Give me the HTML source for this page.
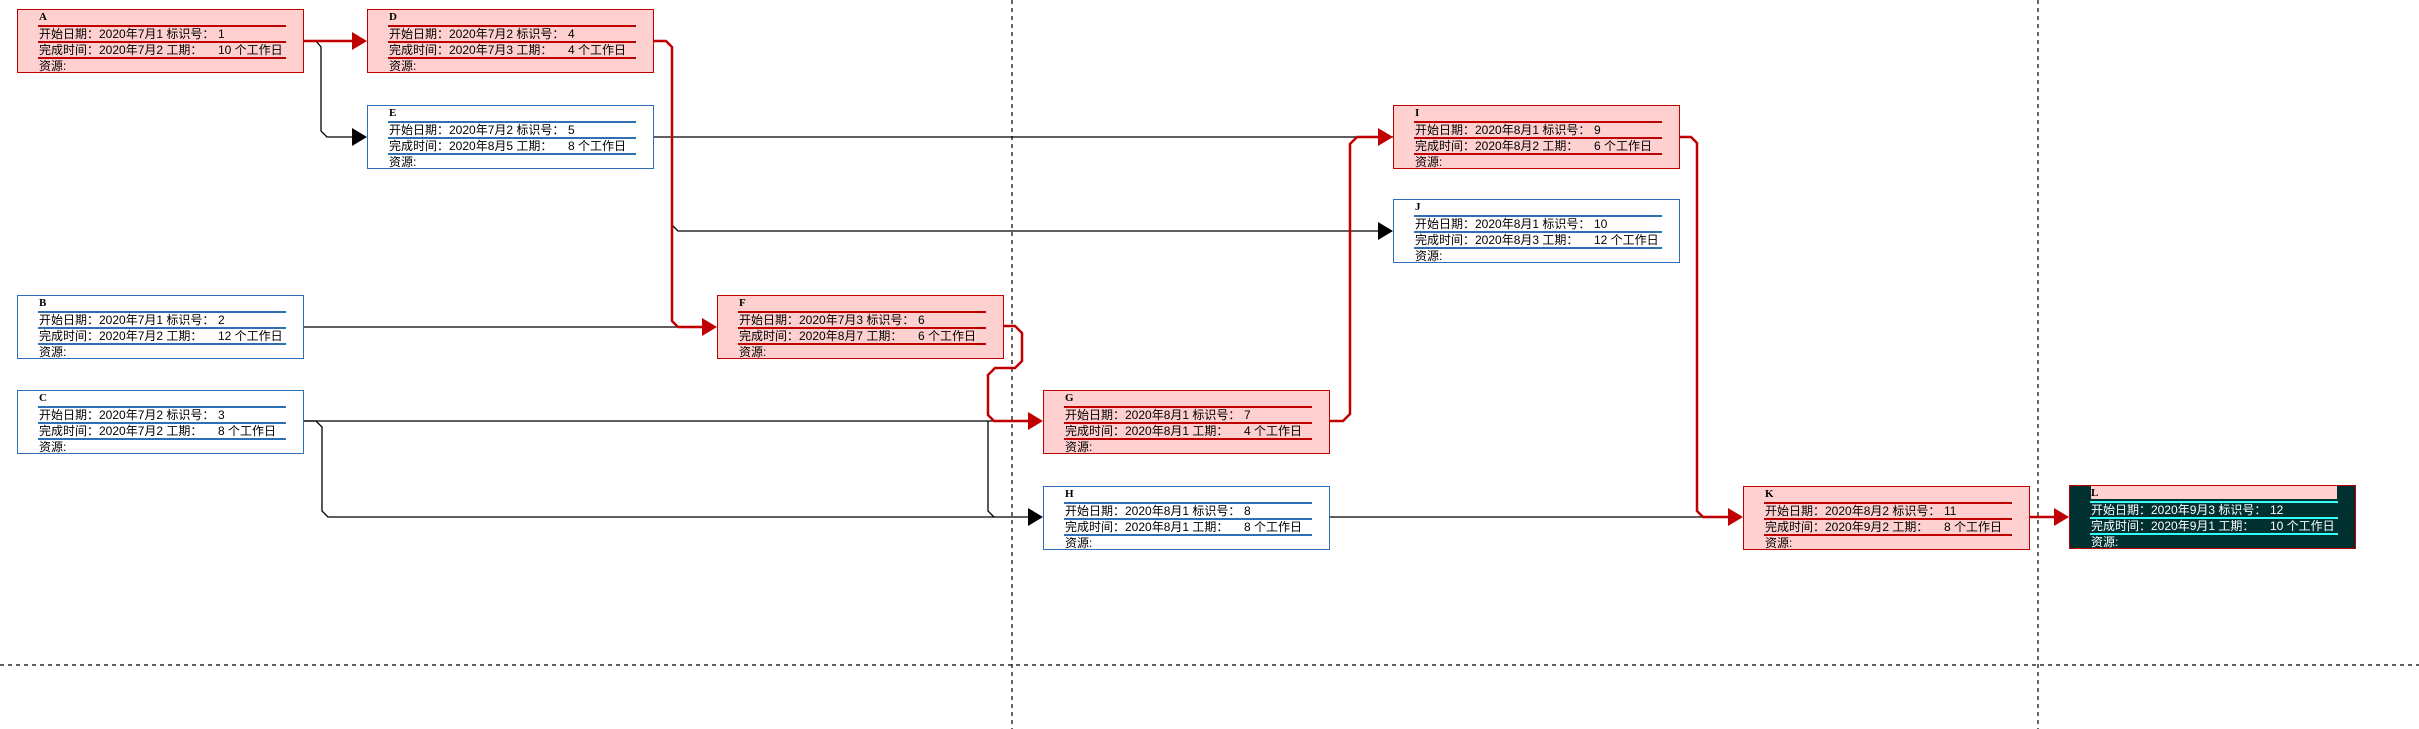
<!DOCTYPE html>
<html><head><meta charset="utf-8"><style>
body{margin:0;width:2419px;height:729px;background:#fff;position:relative;overflow:hidden;font-family:"Liberation Sans","Noto Sans CJK SC",sans-serif;}
svg{position:absolute;left:0;top:0}
.b{position:absolute;width:285px;height:62px;border:1px solid #c00000;background:#ffd0d0;font-size:12px;color:#000;white-space:nowrap}
.w{border-color:#2e6fb7;background:#fff}
.b .l{position:absolute;left:20px;width:248px;height:2px;background:#c00000}
.w .l{background:#2e6fb7}
.b b{position:absolute;left:21px;top:1px;font-family:"Liberation Serif",serif;font-size:11px;line-height:12px}
.b span{position:absolute;left:21px;line-height:15px}
.b em{position:absolute;left:200px;font-style:normal;line-height:15px}
.r1{top:17px}.r2{top:33px}.r3{top:49px}
.L{background:#003030;border-color:#c00000;color:#fff}
.L .l{background:#3ff}
.L .tb{position:absolute;left:21px;top:0;width:246px;height:13px;background:#ffd0d0}
.L b{color:#000}
</style></head><body>
<svg width="2419" height="729">
<g stroke="#000" stroke-width="1.2" stroke-dasharray="4,4" fill="none">
<line x1="1012" y1="0" x2="1012" y2="729"/><line x1="2038" y1="0" x2="2038" y2="729"/><line x1="0" y1="665" x2="2419" y2="665"/>
</g>
<g stroke="#000" stroke-width="1.3" fill="none">
<polyline points="304,41 316,41 321,47 321,131 327,137 353,137"/>
<polyline points="654,137 1393,137"/>
<polyline points="672,225 678,231 1379,231"/>
<polyline points="304,327 703,327"/>
<polyline points="304,421 1029,421"/>
<polyline points="304,421 316,421 322,427 322,511 328,517 1029,517"/>
<polyline points="988,421 988,511 994,517"/>
<polyline points="1330,517 1729,517"/>
</g>
<g stroke="#c00000" stroke-width="2.5" fill="none">
<polyline points="304,41 355,41"/>
<polyline points="654,41 666,41 672,47 672,321 678,327 705,327"/>
<polyline points="1004,326 1015,326 1022,333 1022,361 1015,368 995,368 988,375 988,415 994,421 1031,421"/>
<polyline points="1330,421 1343,421 1350,414 1350,144 1357,137 1381,137"/>
<polyline points="1680,137 1691,137 1697,143 1697,511 1703,517 1731,517"/>
<polyline points="2030,517 2057,517"/>
</g>
<g fill="#c00000">
<polygon points="367,41 352,32 352,50"/><polygon points="717,327 702,318 702,336"/><polygon points="1043,421 1028,412 1028,430"/><polygon points="1393,137 1378,128 1378,146"/><polygon points="1743,517 1728,508 1728,526"/><polygon points="2069,517 2054,508 2054,526"/>
</g>
<g fill="#000">
<polygon points="367,137 352,128 352,146"/><polygon points="1393,231 1378,222 1378,240"/><polygon points="1043,517 1028,508 1028,526"/>
</g>
</svg>

<div class="b" style="left:17px;top:9px"><b>A</b><i class="l" style="top:15px"></i><i class="l" style="top:31px"></i><i class="l" style="top:47px"></i><span class="r1">开始日期：2020年7月1 标识号：</span><em class="r1">1</em><span class="r2">完成时间：2020年7月2 工期：</span><em class="r2">10 个工作日</em><span class="r3">资源:</span></div>
<div class="b" style="left:367px;top:9px"><b>D</b><i class="l" style="top:15px"></i><i class="l" style="top:31px"></i><i class="l" style="top:47px"></i><span class="r1">开始日期：2020年7月2 标识号：</span><em class="r1">4</em><span class="r2">完成时间：2020年7月3 工期：</span><em class="r2">4 个工作日</em><span class="r3">资源:</span></div>
<div class="b w" style="left:367px;top:105px"><b>E</b><i class="l" style="top:15px"></i><i class="l" style="top:31px"></i><i class="l" style="top:47px"></i><span class="r1">开始日期：2020年7月2 标识号：</span><em class="r1">5</em><span class="r2">完成时间：2020年8月5 工期：</span><em class="r2">8 个工作日</em><span class="r3">资源:</span></div>
<div class="b" style="left:1393px;top:105px"><b>I</b><i class="l" style="top:15px"></i><i class="l" style="top:31px"></i><i class="l" style="top:47px"></i><span class="r1">开始日期：2020年8月1 标识号：</span><em class="r1">9</em><span class="r2">完成时间：2020年8月2 工期：</span><em class="r2">6 个工作日</em><span class="r3">资源:</span></div>
<div class="b w" style="left:1393px;top:199px"><b>J</b><i class="l" style="top:15px"></i><i class="l" style="top:31px"></i><i class="l" style="top:47px"></i><span class="r1">开始日期：2020年8月1 标识号：</span><em class="r1">10</em><span class="r2">完成时间：2020年8月3 工期：</span><em class="r2">12 个工作日</em><span class="r3">资源:</span></div>
<div class="b w" style="left:17px;top:295px"><b>B</b><i class="l" style="top:15px"></i><i class="l" style="top:31px"></i><i class="l" style="top:47px"></i><span class="r1">开始日期：2020年7月1 标识号：</span><em class="r1">2</em><span class="r2">完成时间：2020年7月2 工期：</span><em class="r2">12 个工作日</em><span class="r3">资源:</span></div>
<div class="b" style="left:717px;top:295px"><b>F</b><i class="l" style="top:15px"></i><i class="l" style="top:31px"></i><i class="l" style="top:47px"></i><span class="r1">开始日期：2020年7月3 标识号：</span><em class="r1">6</em><span class="r2">完成时间：2020年8月7 工期：</span><em class="r2">6 个工作日</em><span class="r3">资源:</span></div>
<div class="b w" style="left:17px;top:390px"><b>C</b><i class="l" style="top:15px"></i><i class="l" style="top:31px"></i><i class="l" style="top:47px"></i><span class="r1">开始日期：2020年7月2 标识号：</span><em class="r1">3</em><span class="r2">完成时间：2020年7月2 工期：</span><em class="r2">8 个工作日</em><span class="r3">资源:</span></div>
<div class="b" style="left:1043px;top:390px"><b>G</b><i class="l" style="top:15px"></i><i class="l" style="top:31px"></i><i class="l" style="top:47px"></i><span class="r1">开始日期：2020年8月1 标识号：</span><em class="r1">7</em><span class="r2">完成时间：2020年8月1 工期：</span><em class="r2">4 个工作日</em><span class="r3">资源:</span></div>
<div class="b w" style="left:1043px;top:486px"><b>H</b><i class="l" style="top:15px"></i><i class="l" style="top:31px"></i><i class="l" style="top:47px"></i><span class="r1">开始日期：2020年8月1 标识号：</span><em class="r1">8</em><span class="r2">完成时间：2020年8月1 工期：</span><em class="r2">8 个工作日</em><span class="r3">资源:</span></div>
<div class="b" style="left:1743px;top:486px"><b>K</b><i class="l" style="top:15px"></i><i class="l" style="top:31px"></i><i class="l" style="top:47px"></i><span class="r1">开始日期：2020年8月2 标识号：</span><em class="r1">11</em><span class="r2">完成时间：2020年9月2 工期：</span><em class="r2">8 个工作日</em><span class="r3">资源:</span></div>
<div class="b L" style="left:2069px;top:485px"><i class="tb"></i><b>L</b><i class="l" style="top:15px"></i><i class="l" style="top:31px"></i><i class="l" style="top:47px"></i><span class="r1">开始日期：2020年9月3 标识号：</span><em class="r1">12</em><span class="r2">完成时间：2020年9月1 工期：</span><em class="r2">10 个工作日</em><span class="r3">资源:</span></div>
</body></html>
